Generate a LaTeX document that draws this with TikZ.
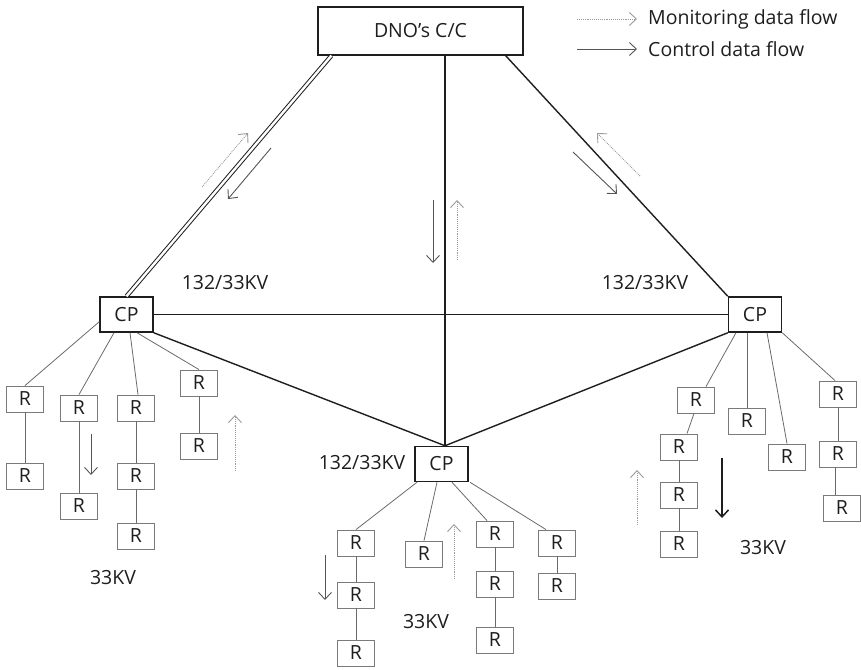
\documentclass[tikz,border=0pt]{standalone}
\usepackage{fontspec}
\setmainfont{Open Sans}
\usetikzlibrary{arrows.meta, positioning, calc}
\definecolor{ink}{HTML}{1E1E1E}
\definecolor{wire}{HTML}{6A6A6A}
\definecolor{frame}{HTML}{7A7A7A}
\definecolor{dotgrey}{HTML}{9A9A9A}
\definecolor{arrowgrey}{HTML}{555555}
\tikzset{
  font=\fontsize{19.5}{23}\selectfont,
  >={Straight Barb[length=7pt, width=13pt]},
  %
  box/.style={draw=ink, line width=1.2pt, text=ink, inner sep=0pt, align=center},
  boxcc/.style={box, minimum width=205pt, minimum height=48pt},
  boxcp/.style={box, line width=1.5pt, minimum width=53pt, minimum height=35pt},
  relay/.style={box, draw=frame, line width=0.9pt, minimum width=37pt, minimum height=26pt},
  %
  trunk/.style={draw=ink, line width=1.4pt},
  trunkdbl/.style={draw=ink, double, double distance=2.4pt, line width=1pt},
  feeder/.style={draw=wire, line width=0.8pt},
  ctrl/.style={draw=arrowgrey, line width=0.9pt, ->},
  ctrlbold/.style={draw=ink, line width=1.5pt, ->},
  mon/.style={draw=dotgrey, line width=0.9pt, densely dotted, ->},
  %
  lbl/.style={text=ink, inner sep=0pt},
}

\begin{document}
\begin{tikzpicture}[x=1pt, y=-1pt]

  \clip (0,0) rectangle (861,669);

  \node[boxcc] (dno) at (420.5,31) {DNO’s C/C};

  % legend
  \node[lbl, anchor=west] (lgmon) at (648,19) {Monitoring data flow};
  \node[lbl, anchor=west] (lgctl) at (648,49) {Control data flow};
  \draw[mon]  ([xshift=-71pt]lgmon.west) -- ([xshift=-11pt]lgmon.west);
  \draw[ctrl] ([xshift=-71pt]lgctl.west) -- ([xshift=-11pt]lgctl.west);

  \node[boxcp] (cpl) at (126.5,314.5) {CP};
  \node[boxcp] (cpr) at (755,314.5)   {CP};
  \node[boxcp] (cpb) at (441.5,464)   {CP};

  \draw[trunkdbl] ([xshift=14pt]dno.south west) -- (cpl.north);
  \draw[trunk] ([xshift=3.5pt]cpb.north |- dno.south) -- ([xshift=3.5pt]cpb.north);
  \draw[trunk] ([xshift=-18pt]dno.south east) -- (cpr.north west);
  \draw[trunk] (cpl.east) -- (cpr.west);
  \draw[trunk] (cpl.south east) -- ([xshift=3.5pt]cpb.north);
  \draw[trunk] (cpr.south west) -- ([xshift=3.5pt]cpb.north);

  \node[lbl] (kvl) at (225,283) {132/33KV};
  \node[lbl] (kvr) at (645,283) {132/33KV};
  \node[lbl] (kvb) at (362,463) {132/33KV};

  % relays
  \foreach \n/\x/\y in {r1/25/399, r1b/25/476, r2/79/408, r2b/79/506,
                        r3/136/408, r3b/136/476, r3c/136/536, r4/199/383, r4b/199/446,
                        b1/356/543, b1b/356/595, b1c/356/653, b2/424/554,
                        b3/495/534, b3b/495/584, b3c/495/640, b4/557/543, b4b/557/586,
                        ra/696/400, ra2/679/447, ra3/679/495, ra4/679/544,
                        rb/747/421, rc/787/457, rd/838/394, rd2/838/454, rd3/842/508}
    \node[relay] (\n) at (\x,\y) {R};

  % left feeders
  \draw[feeder] ([yshift=11pt]cpl.south west) -- (r1.north);
  \draw[feeder] ([xshift=-12.5pt]cpl.south) -- (r2.north);
  \draw[feeder] ([xshift=3.5pt]cpl.south) -- ([xshift=2pt]r3.north);
  \draw[feeder] ([xshift=10.5pt]cpl.south) -- (r4.north);
  \draw[feeder] (r1) -- (r1b);
  \draw[feeder] (r2) -- (r2b);
  \draw[feeder] (r3) -- (r3b);
  \draw[feeder] (r3b) -- (r3c);
  \draw[feeder] (r4) -- (r4b);

  % bottom feeders
  \draw[feeder] ([xshift=-24.5pt]cpb.south) -- (b1.north);
  \draw[feeder] ([xshift=-4.5pt]cpb.south) -- (b2.north);
  \draw[feeder] ([xshift=10.5pt]cpb.south) -- ([xshift=-8pt]b3.north);
  \draw[feeder] ([xshift=28.5pt]cpb.south) -- ([xshift=-11pt]b4.north);
  \draw[feeder] (b1) -- (b1b);
  \draw[feeder] (b1b) -- (b1c);
  \draw[feeder] (b3) -- (b3b);
  \draw[feeder] (b3b) -- (b3c);
  \draw[feeder] (b4) -- (b4b);

  % right feeders
  \draw[feeder] ([xshift=-19pt]cpr.south) -- ([xshift=10pt]ra.north);
  \draw[feeder] ([xshift=-8pt]cpr.south) -- (rb.north);
  \draw[feeder] ([xshift=12pt]cpr.south) -- (rc.north);
  \draw[feeder] (cpr.south east) -- ([xshift=-3pt]rd.north);
  \draw[feeder] ([xshift=-2pt]ra.south) -- ([xshift=8pt]ra2.north);
  \draw[feeder] (ra2) -- (ra3);
  \draw[feeder] (ra3) -- (ra4);
  \draw[feeder] (rd) -- (rd2);
  \draw[feeder] ([xshift=-3pt]rd2.south) -- ([xshift=-7pt]rd3.north);

  \node[lbl] (kvsl) at (113,578) {33KV};
  \node[lbl] (kvsb) at (426,622) {33KV};
  \node[lbl] (kvsr) at (763,548) {33KV};

  % flow marks
  \foreach \a/\b/\c/\d in {271/148/228/199, 573/152/617/194, 433/200/433/263,
                           91/434/91/475, 325/555/325/600}
    \draw[ctrl] (\a,\b) -- (\c,\d);
  \foreach \a/\b/\c/\d in {202/187/248/133, 640/176/597/133, 457/260/457/200,
                           235/471/235/415, 454/579/454/524, 637/525/637/470}
    \draw[mon] (\a,\b) -- (\c,\d);
  \draw[ctrlbold] (722,458) -- (722,518);

\end{tikzpicture}
\end{document}
